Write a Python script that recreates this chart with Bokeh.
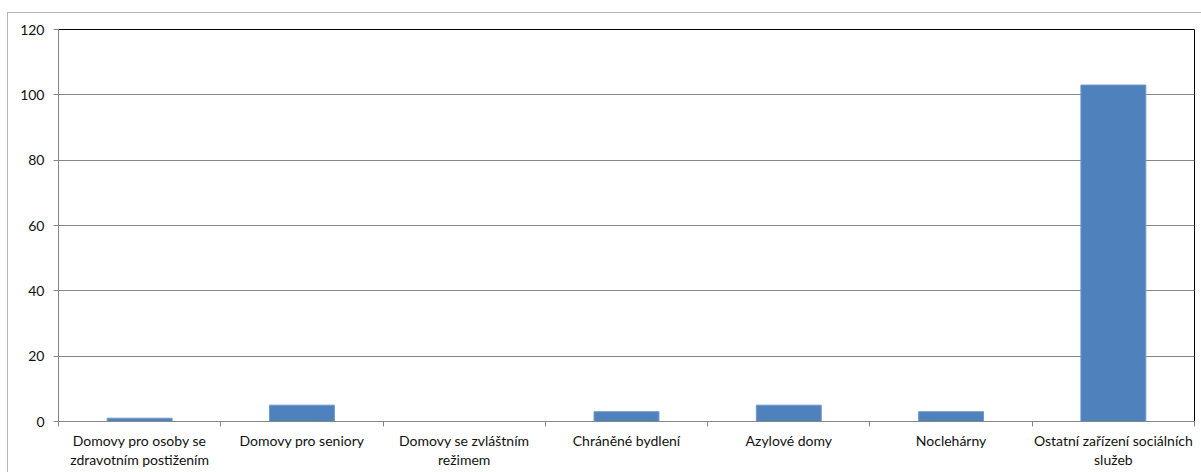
from bokeh.plotting import figure
from bokeh.models import FixedTicker, Range1d, ColumnDataSource
from bokeh.embed import file_html
from bokeh.resources import INLINE

categories = ["Domovy pro osoby se\nzdravotním postižením", "Domovy pro seniory",
              "Domovy se zvláštním\nrežimem", "Chráněné bydlení", "Azylové domy",
              "Noclehárny", "Ostatní zařízení sociálních\nslužeb"]
values = [1, 5, 0, 3, 5, 3, 103]
y_ticks = [0, 20, 40, 60, 80, 100, 120]

FONT = "Lato"
n = len(categories)
centers = [i + 0.5 for i in range(n)]
src = ColumnDataSource(dict(x=centers, top=values))

p = figure(width=1201, height=472, output_backend="svg", toolbar_location=None,
           x_range=Range1d(0, n), y_range=Range1d(0, 120),
           min_border_left=58, min_border_right=7, min_border_top=29, min_border_bottom=51)
p.border_fill_color = None
p.background_fill_color = "white"
p.styles = {
    "background-color": "white",
    "background-image": "linear-gradient(#b5b5b5,#b5b5b5), linear-gradient(#b5b5b5,#b5b5b5)",
    "background-size": "100% 1px, 1px 100%",
    "background-position": "7px 12px, 7px 12px",
    "background-repeat": "no-repeat",
}

p.vbar(x="x", top="top", width=0.4, bottom=0, source=src, fill_color="#4F81BD",
       line_color="#6e98cb", line_width=1)

p.outline_line_color = "black"
p.outline_line_width = 1

p.xgrid.visible = False
p.ygrid.ticker = FixedTicker(ticks=y_ticks)
p.ygrid.grid_line_color = "#868686"

p.yaxis.ticker = FixedTicker(ticks=y_ticks)
p.yaxis.axis_line_color = "#868686"
p.yaxis.major_tick_line_color = "#868686"
p.yaxis.major_tick_out = 5
p.yaxis.major_tick_in = 0
p.yaxis.minor_tick_line_color = None
p.yaxis.major_label_text_font = FONT
p.yaxis.major_label_text_font_size = "14px"
p.yaxis.major_label_text_color = "#111111"
p.yaxis.major_label_standoff = 9

p.xaxis.ticker = FixedTicker(ticks=centers, minor_ticks=list(range(n + 1)))
p.xaxis.major_label_overrides = {c: lab for c, lab in zip(centers, categories)}
p.xaxis.axis_line_color = "#868686"
p.xaxis.major_tick_line_color = None
p.xaxis.minor_tick_line_color = "#868686"
p.xaxis.minor_tick_out = 5
p.xaxis.minor_tick_in = 0
p.xaxis.major_label_text_font = FONT
p.xaxis.major_label_text_font_size = "14px"
p.xaxis.major_label_text_color = "#111111"
p.xaxis.major_label_standoff = 4
p.xaxis.major_label_text_line_height = 1.12

open("out.html", "w").write(file_html(p, INLINE))
